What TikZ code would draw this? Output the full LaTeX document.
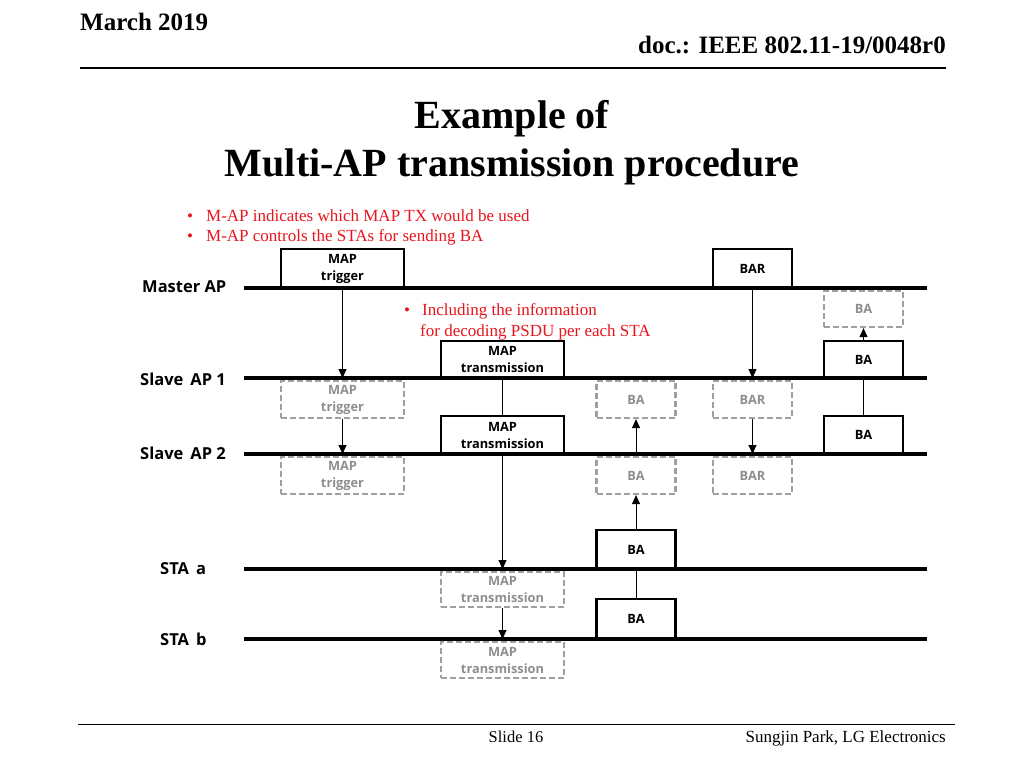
\documentclass[tikz,border=0pt]{standalone}
\usepackage{fontspec}
\setmainfont{Liberation Serif}
\newfontfamily\boxfont{Open Sans}
\usetikzlibrary{arrows.meta}
\definecolor{redtxt}{HTML}{E8141B}
\definecolor{dgray}{HTML}{A0A0A0}
\definecolor{dtext}{HTML}{8E8E8E}
\tikzset{
  sbox/.style={draw=black,line width=2.2pt,inner sep=0pt,align=center,font=\boxfont\bfseries\fontsize{12.8}{17}\selectfont,text=black},
  dbox/.style={draw=dgray,dash pattern=on 6pt off 3pt,line width=2.2pt,inner sep=0pt,align=center,font=\boxfont\bfseries\fontsize{12.8}{17}\selectfont,text=dtext},
  wide/.style={minimum width=123pt,minimum height=38pt},
  narrow/.style={minimum width=79pt,minimum height=37pt},
  tline/.style={line width=3.6pt},
  lab/.style={font=\boxfont\bfseries\fontsize{16.5}{20}\selectfont,anchor=west},
  arr/.style={line width=1pt,-{Triangle[length=9pt,width=8pt]}},
  plain/.style={line width=1pt},
  note/.style={font=\fontsize{17}{20}\selectfont,text=redtxt,anchor=west},
  hdr/.style={font=\bfseries\fontsize{25}{28}\selectfont}
}
\begin{document}
\begin{tikzpicture}[x=1pt,y=-1pt]
\useasboundingbox (0,0) rectangle (1024,768);
% header
\node[hdr,anchor=base west,inner sep=0pt] (date) at (80,31) {March 2019};
\node[hdr,anchor=base east,inner sep=0pt] (doc) at (946,54) {doc.: IEEE 802.11-19/0048r0};
\draw[line width=1.2pt] (80,68) -- (946,68);
% title
\node[font=\bfseries\fontsize{40}{44}\selectfont,anchor=base,inner sep=0pt] (t1) at (512,128) {Example of};
\node[font=\bfseries\fontsize{40}{44}\selectfont,anchor=base,inner sep=0pt] (t2) at (512,176) {Multi-AP transmission procedure};
% notes
\node[note,inner sep=0pt] (b1) at (187,216) {•\hspace{13pt}M-AP indicates which MAP TX would be used};
\node[note,inner sep=0pt] (b2) at (187,237) {•\hspace{13pt}M-AP controls the STAs for sending BA};
\node[note,inner sep=0pt] (b3) at (404,311) {•\hspace{12pt}Including the information};
\node[note,inner sep=0pt] (b4) at (420,332) {for decoding PSDU per each STA};
% timeline labels
\node[lab,inner sep=0pt] (lm) at (142,287) {Master AP};
\node[lab,inner sep=0pt] (ls1) at (140,379) {Slave\, AP 1};
\node[lab,inner sep=0pt] (ls2) at (140,453) {Slave\, AP 2};
\node[lab,inner sep=0pt] (lsa) at (160,569) {STA\, a};
\node[lab,inner sep=0pt] (lsb) at (160,639) {STA\, b};
% timelines
\coordinate (m0) at (244,288); \coordinate (m1) at (927,288);
\coordinate (s10) at (244,378); \coordinate (s11) at (927,378);
\coordinate (s20) at (244,454); \coordinate (s21) at (927,454);
\coordinate (a0) at (244,569); \coordinate (a1) at (927,569);
\coordinate (b0) at (244,639); \coordinate (b1c) at (927,639);
\draw[tline] (m0) -- (m1);
\draw[tline] (s10) -- (s11);
\draw[tline] (s20) -- (s21);
\draw[tline] (a0) -- (a1);
\draw[tline] (b0) -- (b1c);
% boxes
\node[sbox,wide,minimum height=39pt] (mtrig) at (342.5,268.5) {MAP\\trigger};
\node[sbox,narrow,minimum height=39pt] (bar) at (752.5,268.5) {BAR};
\node[dbox,narrow,minimum height=36pt] (baM) at (863.5,309) {BA};
\node[sbox,wide,minimum height=37pt] (mtx1) at (502.5,359.5) {MAP\\transmission};
\node[sbox,narrow,minimum height=37pt] (ba1) at (863.5,359.5) {BA};
\node[dbox,wide,minimum height=37pt] (dtrig1) at (342.5,399.5) {MAP\\trigger};
\node[dbox,narrow,minimum height=37pt] (dba1) at (636,399.5) {BA};
\node[dbox,narrow,minimum height=37pt] (dbar1) at (752.5,399.5) {BAR};
\node[sbox,wide,minimum height=38pt] (mtx2) at (502.5,435) {MAP\\transmission};
\node[sbox,narrow,minimum height=38pt] (ba2) at (863.5,435) {BA};
\node[dbox,wide,minimum height=37pt] (dtrig2) at (342.5,475.5) {MAP\\trigger};
\node[dbox,narrow,minimum height=37pt] (dba2) at (636,475.5) {BA};
\node[dbox,narrow,minimum height=37pt] (dbar2) at (752.5,475.5) {BAR};
\node[sbox,narrow,minimum height=39pt] (baa) at (636,549.5) {BA};
\node[dbox,wide,minimum height=35pt] (dmtxa) at (502.5,589.5) {MAP\\transmission};
\node[sbox,narrow,minimum height=40pt] (bab) at (636,619) {BA};
\node[dbox,wide,minimum height=36pt] (dmtxb) at (502.5,660) {MAP\\transmission};
% connectors
\draw[arr] (mtrig.south) -- (mtrig.south |- s10);
\draw[arr] (dtrig1.south) -- (dtrig1.south |- s20);
\draw[plain] (mtx1.south) -- (mtx2.north);
\draw[arr] (mtx2.south) -- (mtx2.south |- a0);
\draw[arr] (dmtxa.south) -- (dmtxa.south |- b0);
\draw[plain] (bab.north) -- (bab.north |- a0);
\draw[arr] (baa.north) -- (dba2.south);
\draw[arr] (dba1.south |- s20) -- (dba1.south);
\draw[arr] (bar.south) -- (bar.south |- s10);
\draw[arr] (dbar1.south) -- (dbar1.south |- s20);
\draw[plain] (ba2.north) -- (ba2.north |- s10);
\draw[arr] (ba1.north) -- (baM.south);
% footer
\draw[line width=1pt] (78,724) -- (955,724);
\node[font=\fontsize{16.5}{19}\selectfont,anchor=base,inner sep=0pt] (slide) at (516,742) {Slide 16};
\node[font=\fontsize{17}{20}\selectfont,anchor=base east,inner sep=0pt] (auth) at (946,742) {Sungjin Park, LG Electronics};
\end{tikzpicture}
\end{document}
